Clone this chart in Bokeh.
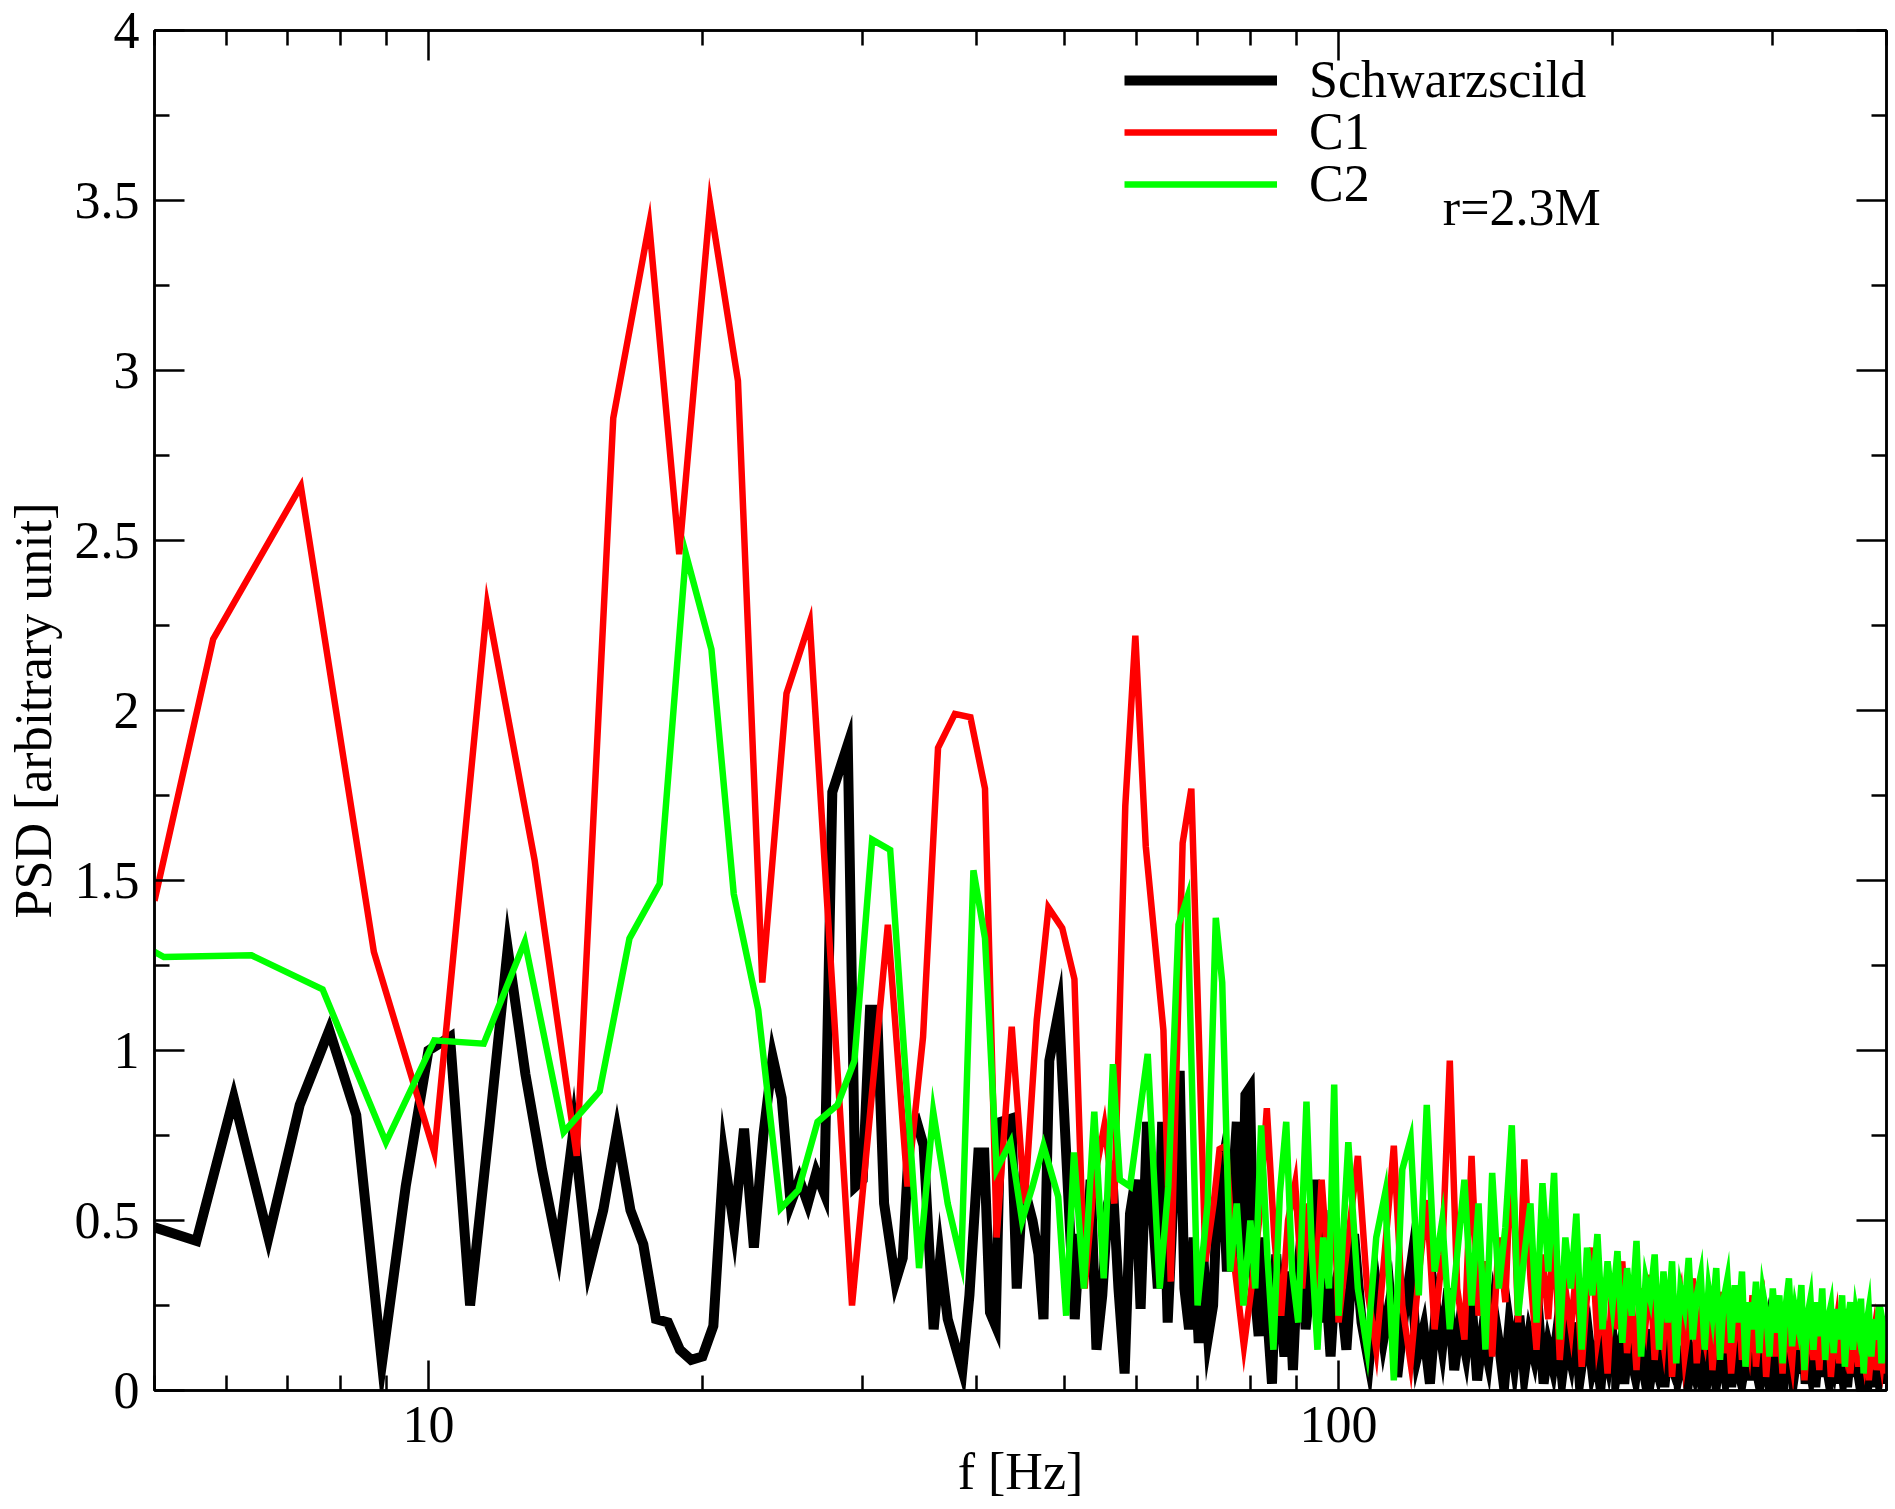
from bokeh.plotting import figure
from bokeh.models import (FixedTicker, LogAxis, LinearAxis, Legend, LegendItem,
                          Label, CustomJSTickFormatter)
from bokeh.embed import file_html
from bokeh.resources import INLINE

# ---------------- data ----------------
# Schwarzschild (black)
BLACK_F_LO = [5.00, 5.56, 6.11, 6.67, 7.22, 7.78, 8.33, 8.89, 9.44, 10.00,
              10.56, 11.11, 11.67, 12.22, 12.78, 13.33, 13.89, 14.44, 15.00, 15.56,
              16.11, 16.67, 17.22, 17.78, 18.33, 18.89, 19.44, 20.00, 20.56, 21.11,
              21.67, 22.22, 22.78, 23.33, 23.89, 24.44, 25.00, 25.56, 26.11, 26.67,
              27.22, 27.78, 28.89, 29.44, 30.00, 30.56, 31.11, 31.67, 32.60, 33.20,
              33.80, 34.40, 35.00, 35.90, 36.50, 37.20, 38.60, 39.30, 40.20, 40.80,
              41.40, 42.00, 42.50, 43.70, 44.30, 45.00, 46.10, 46.80, 47.40, 48.10,
              49.30, 50.60, 51.30, 52.00, 52.70, 53.40, 54.20, 55.00, 55.80, 56.50,
              57.30, 58.20, 59.00, 59.80, 60.60, 61.60, 62.50, 63.30, 64.00, 64.90,
              65.80, 66.90, 67.70, 68.50, 69.30, 70.20, 71.00, 71.90, 72.80, 73.60,
              74.50, 75.40, 76.30, 77.30, 78.20, 79.00, 79.90, 80.80, 81.70, 82.60,
              83.50, 84.50, 85.40, 86.30, 87.20, 88.10, 89.10, 90.00, 91.00, 92.00,
              93.00, 94.20, 95.10, 96.00, 97.00, 98.00, 99.00]
BLACK_V_LO = [0.48, 0.44, 0.86, 0.45, 0.84, 1.06, 0.81, 0.08, 0.60, 1.00,
              1.04, 0.25, 0.78, 1.30, 0.93, 0.65, 0.41, 0.77, 0.36, 0.53,
              0.76, 0.53, 0.43, 0.21, 0.20, 0.12, 0.09, 0.10, 0.19, 0.69,
              0.48, 0.77, 0.42, 0.75, 0.98, 0.86, 0.55, 0.62, 0.55, 0.64,
              0.58, 1.76, 1.90, 0.60, 0.62, 1.12, 1.12, 0.55, 0.32, 0.39,
              0.77, 0.79, 0.72, 0.18, 0.39, 0.21, 0.06, 0.28, 0.70, 0.70,
              0.23, 0.19, 0.79, 0.80, 0.30, 0.61, 0.50, 0.40, 0.21, 0.97,
              1.12, 0.51, 0.21, 0.46, 0.34, 0.62, 0.12, 0.28, 0.55, 0.60,
              0.30, 0.05, 0.52, 0.62, 0.24, 0.79, 0.52, 0.30, 0.79, 0.20,
              0.55, 0.94, 0.30, 0.18, 0.45, 0.14, 0.40, 0.16, 0.25, 0.58,
              0.66, 0.35, 0.55, 0.79, 0.30, 0.87, 0.89, 0.30, 0.16, 0.45,
              0.22, 0.02, 0.40, 0.24, 0.10, 0.35, 0.06, 0.32, 0.45, 0.18,
              0.30, 0.62, 0.20, 0.53, 0.28, 0.10, 0.30]
BLACK_HI_F0, BLACK_HI_DF = 100.0, 2.0
BLACK_V_HI = [0.35, 0.12, 0.46, 0.20, 0.08, 0.31, 0.15, 0.27, 0.04, 0.22, 0.36, 0.10, 0.18, 0.02, 0.25, 0.13,
              0.30, 0.06, 0.20, 0.11, 0.26, 0.03, 0.17, 0.09, 0.24, 0.14, 0.01, 0.19, 0.08, 0.22, 0.05,
              0.16, 0.10, 0.21, 0.02, 0.13, 0.07, 0.18, 0.04, 0.15, 0.09, 0.20, 0.03, 0.12, 0.17, 0.06, 0.11, 0.01, 0.14, 0.08, 0.16,
              0.05, 0.12, 0.02, 0.15, 0.09, 0.04, 0.13, 0.07, 0.18, 0.03, 0.10, 0.06, 0.14, 0.01, 0.11, 0.08, 0.16, 0.04, 0.09, 0.12, 0.02, 0.10, 0.06, 0.13, 0.05,
              0.11, 0.03, 0.09, 0.14, 0.02, 0.08, 0.12, 0.05, 0.15, 0.01, 0.10, 0.07, 0.13, 0.04, 0.09, 0.16, 0.03, 0.11, 0.06, 0.02, 0.12, 0.08, 0.14, 0.05, 0.10,
              0.04, 0.13, 0.07, 0.01, 0.11, 0.09, 0.15, 0.03, 0.08, 0.12, 0.05, 0.18, 0.02, 0.10, 0.06, 0.14, 0.01, 0.09, 0.12, 0.04, 0.16, 0.07, 0.03, 0.11, 0.08,
              0.13, 0.02, 0.10, 0.05, 0.14, 0.01, 0.08, 0.12, 0.04, 0.17, 0.06, 0.02, 0.11, 0.09, 0.13, 0.03, 0.07, 0.15, 0.01, 0.10, 0.05, 0.12, 0.02, 0.09, 0.04]

# C1 (red)
RED_F_LO = [5.00, 5.80, 7.24, 8.71, 10.15, 11.60, 13.08, 14.55, 15.96, 17.48,
            18.86, 20.39, 21.88, 23.27, 24.74, 26.24, 29.20, 31.97, 33.60, 34.95,
            36.30, 37.88, 39.40, 40.88, 42.10, 43.74, 45.20, 46.60, 48.00, 49.70,
            51.26, 52.60, 53.90, 55.30, 56.70, 58.30, 59.80, 61.40, 64.20, 65.40,
            67.40, 68.90, 70.30, 71.40, 72.90, 74.00, 75.20, 76.60, 78.70, 80.20,
            81.80, 83.40, 85.00, 86.50, 88.00, 89.60, 91.20, 92.70, 94.30, 95.80,
            97.40, 99.00]
RED_V_LO = [1.44, 2.21, 2.66, 1.29, 0.70, 2.31, 1.56, 0.69, 2.86, 3.43,
            2.46, 3.49, 2.97, 1.20, 2.05, 2.26, 0.25, 1.37, 0.60, 1.04,
            1.89, 1.99, 1.98, 1.77, 0.45, 1.07, 0.55, 1.09, 1.42, 1.36,
            1.21, 0.30, 0.62, 0.78, 0.55, 1.72, 2.22, 1.60, 1.06, 0.32,
            1.61, 1.77, 1.00, 0.38, 0.55, 0.71, 0.72, 0.40, 0.13, 0.30,
            0.50, 0.83, 0.45, 0.22, 0.50, 0.61, 0.30, 0.55, 0.28, 0.62,
            0.35, 0.52]
RED_HI_F0, RED_HI_DF = 100.0, 2.5
RED_V_HI = [0.20, 0.45, 0.69, 0.30, 0.12, 0.42, 0.72, 0.25, 0.08, 0.34, 0.56, 0.18, 0.40,
            0.97, 0.30, 0.15, 0.69, 0.22, 0.38, 0.10, 0.45, 0.26, 0.74, 0.20, 0.68,
            0.33, 0.12, 0.40, 0.21, 0.48, 0.09, 0.30, 0.18, 0.36, 0.07, 0.28, 0.42, 0.15, 0.25, 0.05, 0.33,
            0.18, 0.38, 0.11, 0.26, 0.06, 0.30, 0.20, 0.34, 0.09, 0.24, 0.14, 0.31, 0.04, 0.22, 0.28, 0.10, 0.19, 0.33, 0.08, 0.21,
            0.15, 0.27, 0.06, 0.19, 0.29, 0.11, 0.23, 0.05, 0.17, 0.25, 0.09, 0.20, 0.13, 0.28, 0.07, 0.18, 0.24, 0.04, 0.16, 0.22,
            0.10, 0.19, 0.05, 0.23, 0.14, 0.08, 0.21, 0.12, 0.26, 0.03, 0.15, 0.20, 0.09, 0.17, 0.06, 0.22, 0.11, 0.18, 0.04, 0.14,
            0.20, 0.08, 0.16, 0.12, 0.24, 0.05, 0.13, 0.19, 0.07, 0.15, 0.10, 0.21, 0.03, 0.12, 0.17, 0.06, 0.14, 0.09, 0.18, 0.05]

# C2 (green)
GREEN_F_LO = [5.00, 5.12, 6.39, 7.65, 8.98, 10.15, 11.50, 12.76, 14.08, 15.42,
              16.63, 17.95, 19.18, 20.46, 21.65, 23.03, 24.37, 25.50, 26.76, 28.15,
              29.38, 30.73, 32.16, 34.60, 35.86, 37.20, 38.50, 39.70, 40.88, 42.10,
              43.60, 44.90, 46.10, 47.40, 49.20, 50.20, 51.20, 52.50, 53.90, 55.20,
              56.50, 57.50, 59.00, 61.70, 63.60, 65.00, 66.70, 68.20, 70.00, 71.80,
              73.30, 74.50, 76.00, 77.30, 78.60, 80.00, 81.00, 82.20, 83.50, 84.80,
              86.20, 87.60, 88.90, 90.30, 92.20, 93.50, 94.80, 96.20, 97.60, 98.90]
GREEN_V_LO = [1.29, 1.275, 1.28, 1.18, 0.73, 1.03, 1.02, 1.32, 0.76, 0.88,
              1.33, 1.49, 2.46, 2.18, 1.46, 1.12, 0.535, 0.59, 0.79, 0.84,
              0.97, 1.62, 1.59, 0.36, 0.82, 0.55, 0.38, 1.53, 1.33, 0.65,
              0.73, 0.50, 0.60, 0.72, 0.57, 0.22, 0.70, 0.30, 0.82, 0.33,
              0.96, 0.62, 0.60, 0.99, 0.30, 0.60, 1.37, 1.45, 0.25, 0.55,
              1.39, 1.20, 0.35, 0.55, 0.25, 0.50, 0.30, 0.78, 0.40, 0.12,
              0.58, 0.79, 0.35, 0.20, 0.85, 0.40, 0.12, 0.45, 0.30, 0.90]
GREEN_HI_F0, GREEN_HI_DF = 100.0, 2.5
GREEN_V_HI = [0.22, 0.73, 0.30, 0.12, 0.45, 0.58, 0.03, 0.65, 0.74, 0.28, 0.84, 0.35, 0.50,
              0.18, 0.40, 0.62, 0.25, 0.55, 0.12, 0.64, 0.30, 0.48, 0.78, 0.22, 0.40,
              0.55, 0.20, 0.61, 0.35, 0.64, 0.15, 0.45, 0.30, 0.52, 0.12, 0.42, 0.28, 0.46, 0.18, 0.38, 0.25,
              0.41, 0.14, 0.36, 0.22, 0.44, 0.10, 0.33, 0.27, 0.40, 0.12, 0.35, 0.20, 0.38, 0.08, 0.30, 0.24, 0.39, 0.15, 0.28, 0.34,
              0.12, 0.30, 0.22, 0.36, 0.09, 0.27, 0.33, 0.14, 0.31, 0.20, 0.35, 0.07, 0.26, 0.18, 0.32, 0.11, 0.29, 0.23, 0.10, 0.30,
              0.17, 0.28, 0.08, 0.25, 0.33, 0.13, 0.24, 0.19, 0.31, 0.06, 0.22, 0.27, 0.12, 0.26, 0.16, 0.30, 0.09, 0.21, 0.25, 0.11,
              0.24, 0.15, 0.28, 0.07, 0.20, 0.26, 0.12, 0.23, 0.18, 0.27, 0.05, 0.19, 0.24, 0.10, 0.21, 0.15, 0.25, 0.08, 0.18, 0.14]

X_MAJOR = [10, 100]
X_MINOR = [5, 6, 7, 8, 9, 20, 30, 40, 50, 60, 70, 80, 90, 200, 300, 400]
Y_MAJOR = [0, 0.5, 1, 1.5, 2, 2.5, 3, 3.5, 4]
Y_MINOR = [0.25, 0.75, 1.25, 1.75, 2.25, 2.75, 3.25, 3.75]

SERIES_NAMES = ["Schwarzscild", "C1", "C2"]
ANNOTATION = "r=2.3M"


def build(f_lo, v_lo, f0, df, v_hi):
    n = min(len(f_lo), len(v_lo))
    f = list(f_lo[:n]) + [f0 + df * i for i in range(len(v_hi))]
    v = list(v_lo[:n]) + list(v_hi)
    return f, v


bf, bv = build(BLACK_F_LO, BLACK_V_LO, BLACK_HI_F0, BLACK_HI_DF, BLACK_V_HI)
rf, rv = build(RED_F_LO, RED_V_LO, RED_HI_F0, RED_HI_DF, RED_V_HI)
gf, gv = build(GREEN_F_LO, GREEN_V_LO, GREEN_HI_F0, GREEN_HI_DF, GREEN_V_HI)

FONT = "Liberation Serif"
FS = "52px"

p = figure(width=1894, height=1508, x_axis_type="log", x_range=(5, 400), y_range=(0, 4),
           output_backend="svg", toolbar_location=None,
           min_border_left=154, min_border_right=8, min_border_top=30, min_border_bottom=118)
p.grid.visible = False
p.outline_line_color = "black"
p.outline_line_width = 2.5
p.background_fill_color = "white"
p.border_fill_color = "white"

fmt = CustomJSTickFormatter(code="return String(tick);")
blank = CustomJSTickFormatter(code="return '';")
xt = FixedTicker(ticks=X_MAJOR, minor_ticks=X_MINOR)
yt = FixedTicker(ticks=Y_MAJOR, minor_ticks=Y_MINOR)


def style(ax, labels=True):
    ax.axis_line_width = 2.5
    ax.axis_line_color = "black"
    ax.major_tick_in = 30
    ax.major_tick_out = 0
    ax.minor_tick_in = 15
    ax.minor_tick_out = 0
    ax.major_tick_line_width = 2.5
    ax.minor_tick_line_width = 2.5
    ax.major_tick_line_color = "black"
    ax.minor_tick_line_color = "black"
    ax.major_label_text_font = FONT
    ax.major_label_text_font_size = FS if labels else "1px"
    ax.major_label_text_color = "black"
    ax.axis_label_text_font = FONT
    ax.axis_label_text_font_size = FS
    ax.axis_label_text_font_style = "normal"
    ax.axis_label_text_color = "black"


xa = p.below[0]
ya = p.left[0]
xa.ticker = xt
xa.formatter = fmt
ya.ticker = yt
ya.formatter = fmt
style(xa)
style(ya)
xa.axis_label = "f [Hz]"
ya.axis_label = "PSD [arbitrary unit]"
xa.major_label_standoff = 16
xa.axis_label_standoff = -2
ya.major_label_standoff = 15
ya.axis_label_standoff = 10

top = LogAxis(ticker=xt, formatter=blank)
style(top, labels=False)
top.major_label_standoff = 0
p.add_layout(top, "above")

right = LinearAxis(ticker=yt, formatter=blank)
style(right, labels=False)
right.major_label_standoff = 0
p.add_layout(right, "right")

rb = p.line(bf, bv, line_color="black", line_width=10, line_join="miter")
rr = p.line(rf, rv, line_color="#ff0000", line_width=6.5, line_join="miter")
rg = p.line(gf, gv, line_color="#00ff00", line_width=6.5, line_join="miter")

# one legend block per row, so that the row pitch can match the reference
for name, rend, yloc in zip(SERIES_NAMES, [rb, rr, rg], [1281, 1229, 1177]):
    lg = Legend(items=[LegendItem(label=name, renderers=[rend])],
                location=(970, yloc), glyph_width=153, glyph_height=40,
                label_standoff=32, spacing=0, padding=0, margin=0,
                border_line_alpha=0, background_fill_alpha=0,
                label_text_font=FONT, label_text_font_size=FS,
                label_text_color="black", label_height=40)
    p.add_layout(lg)

p.add_layout(Label(x=130.2, y=3.478, text=ANNOTATION, text_font=FONT, text_font_size=FS,
                   text_baseline="alphabetic", text_align="left", text_color="black"))

open("out.html", "w").write(file_html(p, INLINE, title="PSD"))
